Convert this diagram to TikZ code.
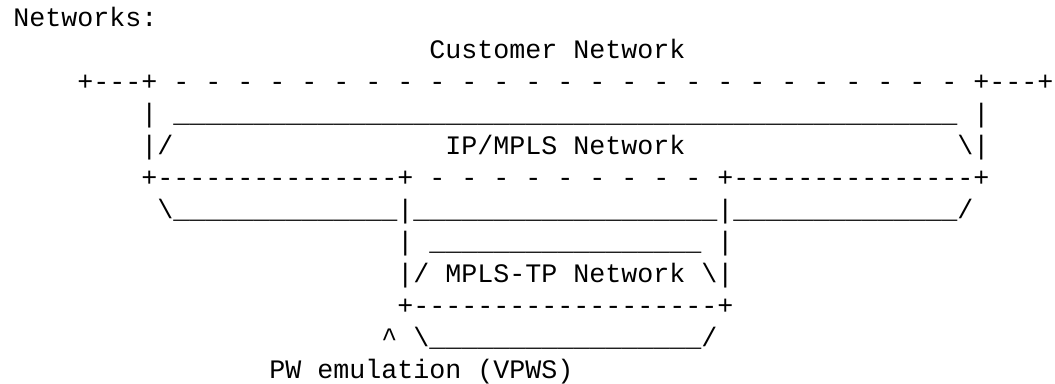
\documentclass[tikz,border=0pt]{standalone}
\usepackage{fontspec}
\setmonofont{Liberation Mono}
\tikzset{ascii/.style={anchor=base west, inner sep=0pt, font=\ttfamily\fontsize{20}{24}\selectfont}}

\begin{document}
\begin{tikzpicture}[x=12pt, y=-24pt]
\useasboundingbox (-0.8125,-0.822) rectangle (65.125,11.147);

% Title
\node[ascii] (title) at (0,0) {Networks:};

% Label for Customer Network
\node[ascii] (custlbl) at (26,1) {Customer Network};

% Customer Network top edge
\node[ascii] (custtl) at (4,2) {+---+};
\foreach \c in {10,12,...,58}
{
    \node[ascii] (custdash\c) at (\c,2) {-};
}
\node[ascii] (custtr) at (60,2) {+---+};

% IP/MPLS Network top edge
\node[ascii] (custl3) at (8,3) {|};
\foreach \c in {10,...,58}
{
    \node[ascii] (iptop\c) at (\c,3) {\_};
}
\node[ascii] (custr3) at (60,3) {|};

% Label for IP/MPLS Network
\node[ascii] (custl4) at (8,4) {|/};
\node[ascii] (iplbl) at (27,4) {IP/MPLS Network};
\node[ascii] (custr4) at (59,4) {\textbackslash|};

% Customer Network bottom edge
\node[ascii] (custbl) at (8,5) {+---------------+};
\foreach \c in {26,28,...,42}
{
    \node[ascii] (custdashb\c) at (\c,5) {-};
}
\node[ascii] (custbr) at (44,5) {+---------------+};

% IP/MPLS Network bottom edge
\node[ascii] (ipbl) at (9,6) {\textbackslash};
\foreach \c in {10,...,23}
{
    \node[ascii] (ipbotl\c) at (\c,6) {\_};
}
\node[ascii] (tpl6) at (24,6) {|};
\foreach \c in {25,...,43}
{
    \node[ascii] (ipbotm\c) at (\c,6) {\_};
}
\node[ascii] (tpr6) at (44,6) {|};
\foreach \c in {45,...,58}
{
    \node[ascii] (ipbotr\c) at (\c,6) {\_};
}
\node[ascii] (ipbr) at (59,6) {/};

% MPLS-TP Network top edge
\node[ascii] (tpl7) at (24,7) {|};
\foreach \c in {26,...,42}
{
    \node[ascii] (tptop\c) at (\c,7) {\_};
}
\node[ascii] (tpr7) at (44,7) {|};

% Label for MPLS-TP Network
\node[ascii] (tpl8) at (24,8) {|/};
\node[ascii] (tplbl) at (27,8) {MPLS-TP Network};
\node[ascii] (tpr8) at (43,8) {\textbackslash|};

% IP/MPLS Network bottom edge under MPLS-TP
\node[ascii] (tpbot) at (24,9) {+-------------------+};

% MPLS-TP Network bottom edge
\node[ascii] (pwmark) at (23,10) {\textasciicircum};
\node[ascii] (tpbl) at (25,10) {\textbackslash};
\foreach \c in {26,...,42}
{
    \node[ascii] (tpbot\c) at (\c,10) {\_};
}
\node[ascii] (tpbr) at (43,10) {/};

% Label for PW emulation
\node[ascii] (pwlbl) at (16,11) {PW emulation (VPWS)};

\end{tikzpicture}
\end{document}
